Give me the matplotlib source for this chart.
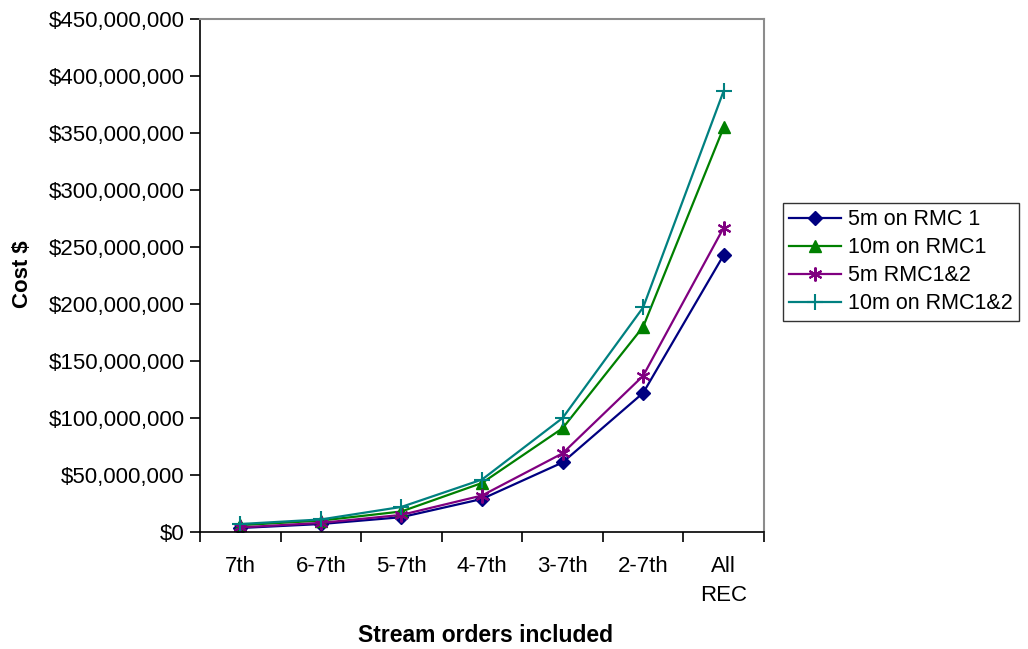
import numpy as np
import matplotlib
matplotlib.use('Agg')
import matplotlib.pyplot as plt
from matplotlib.ticker import FuncFormatter

plt.rcParams['font.family'] = ['Liberation Sans', 'DejaVu Sans']

# data
categories = ['7th', '6-7th', '5-7th', '4-7th', '3-7th', '2-7th', 'All\nREC']
rmc1_5m = [3.5e6, 7e6, 13e6, 29e6, 61e6, 122e6, 243e6]
rmc1_10m = [6e6, 10e6, 18e6, 43e6, 91e6, 180e6, 355e6]
rmc12_5m = [4e6, 8e6, 15e6, 32e6, 69e6, 137e6, 267e6]
rmc12_10m = [7e6, 11e6, 22e6, 46e6, 100e6, 197e6, 387e6]

W, H = 1028, 649
fig = plt.figure(figsize=(W / 100, H / 100), dpi=100)
ax = fig.add_axes([200 / W, 1 - 532 / H, 564 / W, 513 / H])

x = np.arange(len(categories)) + 0.5
ax.plot(x, rmc1_5m, color='#000080', marker='D', markersize=7, lw=1.6, label='5m on RMC 1')
ax.plot(x, rmc1_10m, color='#008000', marker='^', markersize=9, lw=1.6, label='10m on RMC1')
ax.plot(x, rmc12_5m, color='#800080', marker=(6, 2, 0), markersize=10, mew=1.5, lw=1.6, label='5m RMC1&2')
ax.plot(x, rmc12_10m, color='#008080', marker='+', markersize=11, mew=1.5, lw=1.6, label='10m on RMC1&2')

ax.set_xlim(0, len(categories))
ax.set_ylim(0, 450e6)
ax.set_yticks(np.arange(0, 450e6 + 1, 50e6))
ax.yaxis.set_major_formatter(FuncFormatter(lambda v, p: '${:,.0f}'.format(v)))

# category boundaries as ticks, labels centred
ax.set_xticks(np.arange(len(categories) + 1))
ax.set_xticklabels([])
ax.set_xticks(x, minor=True)
ax.set_xticklabels(categories, minor=True, va='top', linespacing=1.5)
ax.tick_params(axis='x', which='major', direction='out', length=7, width=1.2, color='black')
ax.tick_params(axis='x', which='minor', length=0, pad=17, labelsize=16)
ax.tick_params(axis='y', direction='out', length=7, width=1.2, labelsize=16, pad=4)

for s in ['top', 'right']:
    ax.spines[s].set_color('#8c8c8c')
    ax.spines[s].set_linewidth(1.5)
for s in ['left', 'bottom']:
    ax.spines[s].set_color('black')
    ax.spines[s].set_linewidth(1.2)

fig.text(23 / W, 1 - 274 / H, 'Cost $', rotation=90, ha='center', va='center',
         fontsize=16, fontweight='bold')
fig.text(486 / W, 1 - 635 / H, 'Stream orders included', ha='center', va='center',
         fontsize=16.5, fontweight='bold')

leg = fig.legend(loc='upper left', bbox_to_anchor=(783 / W, 1 - 203 / H), fontsize=15.5,
                 frameon=True, fancybox=False, edgecolor='black', handlelength=2.4,
                 handletextpad=0.3, borderpad=0.3, labelspacing=0.32, borderaxespad=0)
leg.get_frame().set_linewidth(1.0)

fig.savefig('out.png', dpi=100)
